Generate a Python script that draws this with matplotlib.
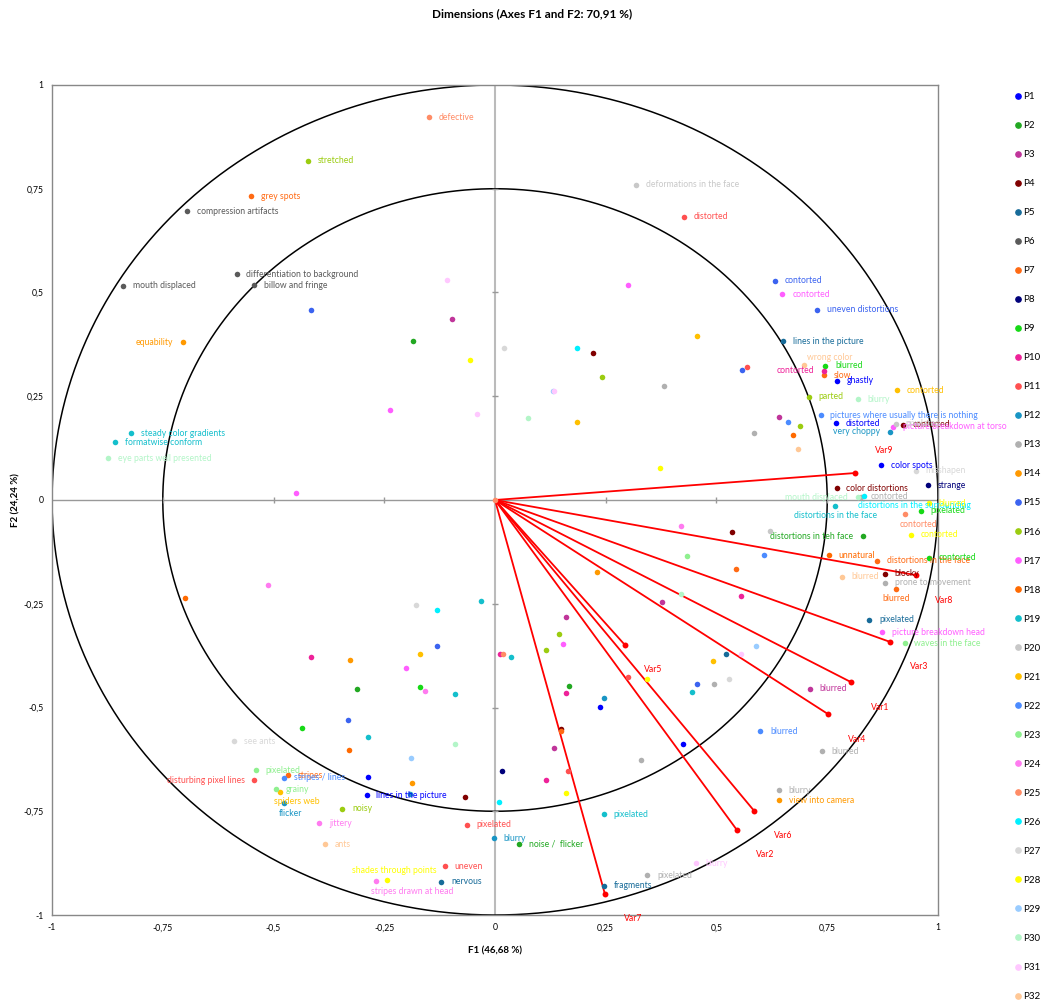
import matplotlib
matplotlib.use('Agg')
import matplotlib.pyplot as plt
from matplotlib.lines import Line2D
import numpy as np

# --- data ---------------------------------------------------------------
series_names = ['P1', 'P2', 'P3', 'P4', 'P5', 'P6', 'P7', 'P8', 'P9', 'P10', 'P11',
                'P12', 'P13', 'P14', 'P15', 'P16', 'P17', 'P18', 'P19', 'P20', 'P21',
                'P22', 'P23', 'P24', 'P25', 'P26', 'P27', 'P28', 'P29', 'P30', 'P31', 'P32']

series_colors = ['#0000FF', '#22A822', '#C0359A', '#800000', '#176B99', '#5A5A5A', '#FF6A13',
                 '#00007A', '#16D916', '#EE2299', '#FF5050', '#1995C4', '#B0B0B0', '#FF9900',
                 '#3B63F0', '#9BCC10', '#FF5EFF', '#FF6A00', '#14BFCC', '#C8C8C8', '#FFC000',
                 '#4B8BFF', '#8FF08F', '#FF7BF0', '#FF8C66', '#00F0FF', '#D8D8D8', '#FFFF00',
                 '#99CCFF', '#B3F5C8', '#FFC8FF', '#FFC896']

f1 = {
    'P1': [0.773, 0.770, 0.871, -0.290, 0.424, 0.237, -0.287],
    'P2': [0.831, 0.055, -0.186, -0.312, 0.167],
    'P3': [0.711, 0.640, 0.377, 0.160, 0.133, -0.096],
    'P4': [0.920, 0.771, 0.880, 0.221, 0.534, 0.148, -0.067],
    'P5': [0.651, 0.845, 0.247, -0.121, 0.522],
    'P6': [-0.695, -0.583, -0.543, -0.840],
    'P7': [-0.550, 0.742, 0.862, 0.905, -0.467, 0.543, 0.148],
    'P8': [0.978, 0.016],
    'P9': [0.746, 0.961, 0.980, -0.436, -0.169],
    'P10': [0.742, -0.415, 0.556, 0.160, 0.115, 0.012],
    'P11': [0.427, -0.543, -0.063, -0.114, 0.569, 0.300, 0.165],
    'P12': [0.892, -0.476, -0.002, 0.247, -0.192],
    'P13': [0.826, 0.881, 0.738, 0.641, 0.344, 0.381, 0.585, 0.494, 0.330],
    'P14': [-0.704, 0.642, -0.327, -0.187, 0.230],
    'P15': [0.632, 0.728, -0.415, 0.557, -0.130, -0.332, 0.456],
    'P16': [-0.423, 0.709, -0.345, 0.241, 0.689, 0.144, 0.116],
    'P17': [0.649, 0.899, 0.874, 0.301, -0.238, -0.449, -0.200, 0.154],
    'P18': [0.753, 0.673, -0.699, -0.329],
    'P19': [-0.821, -0.858, 0.768, 0.245, -0.031, -0.091, -0.286, 0.037, 0.445],
    'P20': [0.905, 0.319, 0.620],
    'P21': [0.907, -0.486, 0.456, 0.185, -0.169, 0.491],
    'P22': [0.735, 0.599, -0.476, 0.662, 0.608],
    'P23': [0.925, -0.540, -0.494, 0.433],
    'P24': [-0.397, -0.268, -0.512, -0.157, 0.420],
    'P25': [-0.150, 0.926, 0.0, 0.018],
    'P26': [0.833, 0.184, -0.131, 0.008],
    'P27': [0.950, -0.589, 0.020, -0.178, 0.529],
    'P28': [0.980, 0.939, -0.244, -0.056, 0.373, 0.343, 0.161],
    'P29': [0.130, 0.590, -0.190],
    'P30': [0.819, -0.874, 0.819, 0.075, -0.091, 0.419],
    'P31': [0.454, -0.108, 0.134, -0.040, 0.555],
    'P32': [0.698, 0.783, -0.384, 0.683],
}

f2 = {
    'P1': [0.287, 0.185, 0.084, -0.712, -0.588, -0.499, -0.667],
    'P2': [-0.087, -0.829, 0.383, -0.456, -0.449],
    'P3': [-0.455, 0.199, -0.245, -0.282, -0.598, 0.437],
    'P4': [0.181, 0.028, -0.178, 0.354, -0.078, -0.552, -0.716],
    'P5': [0.383, -0.289, -0.930, -0.920, -0.371],
    'P6': [0.696, 0.544, 0.517, 0.516],
    'P7': [0.732, 0.300, -0.146, -0.214, -0.663, -0.167, -0.557],
    'P8': [0.036, -0.652],
    'P9': [0.323, -0.026, -0.139, -0.550, -0.451],
    'P10': [0.312, -0.379, -0.231, -0.464, -0.675, -0.370],
    'P11': [0.682, -0.675, -0.782, -0.883, 0.320, -0.426, -0.653],
    'P12': [0.165, -0.731, -0.815, -0.478, -0.708],
    'P13': [0.008, -0.199, -0.606, -0.699, -0.904, 0.275, 0.161, -0.443, -0.627],
    'P14': [0.380, -0.723, -0.386, -0.683, -0.173],
    'P15': [0.528, 0.459, 0.458, 0.313, -0.352, -0.531, -0.444],
    'P16': [0.817, 0.249, -0.744, 0.296, 0.179, -0.324, -0.361],
    'P17': [0.496, 0.177, -0.319, 0.517, 0.216, 0.016, -0.405, -0.348],
    'P18': [-0.133, 0.157, -0.237, -0.603],
    'P19': [0.161, 0.139, -0.014, -0.757, -0.244, -0.467, -0.571, -0.378, -0.463],
    'P20': [0.184, 0.760, -0.074],
    'P21': [0.265, -0.703, 0.395, 0.187, -0.371, -0.388],
    'P22': [0.204, -0.557, -0.669, 0.188, -0.132],
    'P23': [-0.345, -0.651, -0.697, -0.135],
    'P24': [-0.779, -0.919, -0.206, -0.461, -0.062],
    'P25': [0.922, -0.034, 0.0, -0.370],
    'P26': [0.010, 0.366, -0.264, -0.728],
    'P27': [0.070, -0.581, 0.366, -0.253, -0.431],
    'P28': [-0.008, -0.084, -0.916, 0.337, 0.077, -0.432, -0.707],
    'P29': [0.263, -0.353, -0.622],
    'P30': [0.243, 0.101, 0.007, 0.197, -0.589, -0.227],
    'P31': [-0.875, 0.529, 0.263, 0.207, -0.370],
    'P32': [0.325, -0.185, -0.829, 0.123],
}

labels = {
    'P1': ['ghastly', 'distorted', 'color spots', 'lines in the picture', '', '', ''],
    'P2': ['distortions in teh face', 'noise /  flicker', '', '', ''],
    'P3': ['blurred', '', '', '', '', ''],
    'P4': ['contorted', 'color distortions', 'blocky', '', '', '', ''],
    'P5': ['lines in the picture', 'pixelated', 'fragments', 'nervous', ''],
    'P6': ['compression artifacts', 'differentiation to background', 'billow and fringe', 'mouth displaced'],
    'P7': ['grey spots', 'slow', 'distortions in the face', 'blurred', 'stripes', '', ''],
    'P8': ['strange', ''],
    'P9': ['blurred', 'pixelated', 'contorted', '', ''],
    'P10': ['contorted', '', '', '', '', ''],
    'P11': ['distorted', 'disturbing pixel lines', 'pixelated', 'uneven', '', '', ''],
    'P12': ['very choppy', 'flicker', 'blurry', '', ''],
    'P13': ['contorted', 'prone to movement', 'blurred', 'blurry', 'pixelated', '', '', '', ''],
    'P14': ['equability', 'view into camera', '', '', ''],
    'P15': ['contorted', 'uneven distortions', '', '', '', '', ''],
    'P16': ['stretched', 'parted', 'noisy', '', '', '', ''],
    'P17': ['contorted', 'picture breakdown at torso', 'picture breakdown head', '', '', '', '', ''],
    'P18': ['unnatural', '', '', ''],
    'P19': ['steady color gradients', 'formatwise conform', 'distortions in the face', 'pixelated',
            '', '', '', '', ''],
    'P20': ['pixelated', 'deformations in the face', ''],
    'P21': ['contorted', 'spiders web', '', '', '', ''],
    'P22': ['pictures where usually there is nothing', 'blurred', 'stripes / lines', '', ''],
    'P23': ['waves in the face', 'pixelated', 'grainy', ''],
    'P24': ['jittery', 'stripes drawn at head', '', '', ''],
    'P25': ['defective', 'contorted', '', ''],
    'P26': ['distortions in the surrounding', '', '', ''],
    'P27': ['misshapen', 'see ants', '', '', ''],
    'P28': ['blurred', 'contorted', 'shades through points', '', '', '', ''],
    'P29': ['', '', ''],
    'P30': ['blurry', 'eye parts well presented', 'mouth displaced', '', '', ''],
    'P31': ['blurry', '', '', '', ''],
    'P32': ['wrong color', 'blurred', 'ants', ''],
}

var_names = ['Var1', 'Var2', 'Var3', 'Var4', 'Var5', 'Var6', 'Var7', 'Var8', 'Var9']
var_f1 = [0.804, 0.546, 0.892, 0.752, 0.293, 0.585, 0.248, 0.950, 0.813]
var_f2 = [-0.439, -0.795, -0.342, -0.516, -0.349, -0.749, -0.949, -0.181, 0.065]

tick_vals = [-1, -0.75, -0.5, -0.25, 0, 0.25, 0.5, 0.75, 1]
tick_text = ['-1', '-0,75', '-0,5', '-0,25', '0', '0,25', '0,5', '0,75', '1']

# where a label sits relative to its point (default: right)
label_place = {
    ('P2', 'distortions in teh face'): 'l',
    ('P10', 'contorted'): 'l',
    ('P12', 'very choppy'): 'l',
    ('P11', 'disturbing pixel lines'): 'l',
    ('P14', 'equability'): 'l',
    ('P30', 'mouth displaced'): 'l',
    ('P7', 'blurred'): 'b',
    ('P19', 'distortions in the face'): 'b',
    ('P26', 'distortions in the surrounding'): 'br',
    ('P25', 'contorted'): 'br',
    ('P21', 'spiders web'): 'br',
    ('P12', 'flicker'): 'br',
    ('P24', 'stripes drawn at head'): 'br',
    ('P28', 'shades through points'): 'a',
    ('P32', 'wrong color'): 'ar',
}
place_args = {
    'r': ((7, 0), 'left', 'center'),
    'l': ((-7, 0), 'right', 'center'),
    'b': ((0, -4), 'center', 'top'),
    'br': ((-4, -4), 'left', 'top'),
    'a': ((5, 4), 'center', 'bottom'),
    'ar': ((2, 2), 'left', 'bottom'),
}

# --- figure -------------------------------------------------------------
plt.rcParams['font.family'] = ['Lato', 'DejaVu Sans']
fig = plt.figure(figsize=(10.43, 10.01), dpi=100)
ax = fig.add_axes([0.0499, 0.0859, 0.8494, 0.8292])
ax.set_xlim(-1, 1)
ax.set_ylim(-1, 1)

# circles
t = np.linspace(0, 2 * np.pi, 500)
for r in (1.0, 0.75):
    ax.plot(r * np.cos(t), r * np.sin(t), color='black', lw=1.1, zorder=2)

# centre axes with small ticks
ax.axhline(0, color='#999999', lw=1.0, zorder=1)
ax.axvline(0, color='#BBBBBB', lw=1.5, zorder=1)
minor = [-0.75, -0.5, -0.25, 0.25, 0.5, 0.75]
ax.plot(minor, [0] * len(minor), linestyle='none', marker='|', color='#999999', ms=5, mew=1)
ax.plot([0] * len(minor), minor, linestyle='none', marker='_', color='#999999', ms=5, mew=1)

# variable vectors
for name, x, y in zip(var_names, var_f1, var_f2):
    ax.plot([0, x], [0, y], color='red', lw=1.3, zorder=3)
    ax.scatter([x], [y], color='red', s=18, zorder=4, linewidths=0)
    dy = 16 if y > 0 else -18
    ax.annotate(name, (x, y), xytext=(14, dy), textcoords='offset points',
                color='red', fontsize=6.2, ha='left', va='center')

# observations
handles = []
for name, col in zip(series_names, series_colors):
    ax.scatter(f1[name], f2[name], color=col, s=16, zorder=5, linewidths=0)
    for x, y, lab in zip(f1[name], f2[name], labels[name]):
        if not lab:
            continue
        off, ha, va = place_args[label_place.get((name, lab), 'r')]
        ax.annotate(lab, (x, y), xytext=off, textcoords='offset points',
                    color=col, fontsize=6.2, ha=ha, va=va, zorder=6)
    handles.append(Line2D([], [], linestyle='none', marker='o', color=col, ms=3.8, label=name))

ax.set_xticks(tick_vals)
ax.set_xticklabels(tick_text)
ax.set_yticks(tick_vals)
ax.set_yticklabels(tick_text)
ax.tick_params(length=0, labelsize=6.2, pad=6)
for sp in ax.spines.values():
    sp.set_color('#888888')
    sp.set_linewidth(1.0)

ax.set_xlabel('F1 (46,68 %)', fontsize=7, fontweight='bold', labelpad=10)
fig.text(0.0153, 0.5005, 'F2 (24,24 %)', rotation=90, ha='center', va='center',
         fontsize=7, fontweight='bold')
fig.text(0.510, 0.986, 'Dimensions (Axes F1 and F2: 70,91 %)', ha='center', va='center',
         fontsize=8.5, fontweight='bold')

fig.legend(handles=handles, loc='upper left', bbox_to_anchor=(0.973, 0.908), frameon=False,
           fontsize=7, labelspacing=2.06, handlelength=0.6, handletextpad=0.3, borderpad=0,
           borderaxespad=0)

fig.savefig('out.png', dpi=100)
